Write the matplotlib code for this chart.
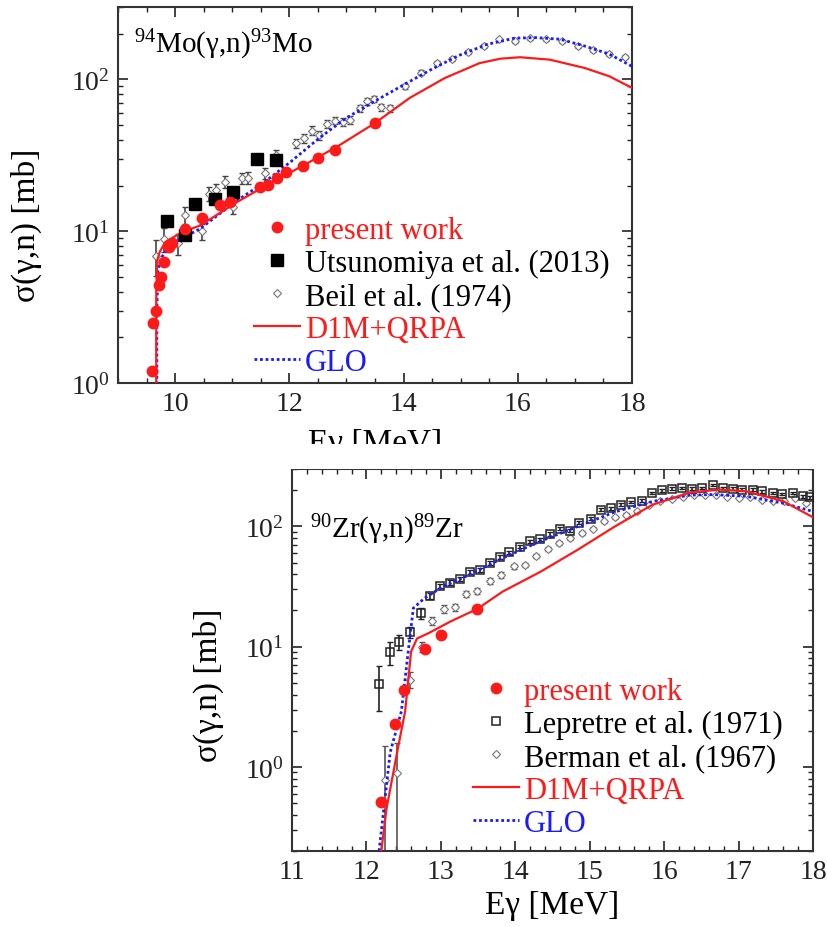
import numpy as np
import matplotlib
matplotlib.use("Agg")
import matplotlib.pyplot as plt
from matplotlib.ticker import MultipleLocator, LogLocator, NullFormatter
from matplotlib.patches import Rectangle

plt.rcParams['font.family'] = ['Liberation Serif', 'DejaVu Serif']
plt.rcParams['mathtext.fontset'] = 'custom'
plt.rcParams['mathtext.rm'] = 'Liberation Serif'
plt.rcParams['mathtext.it'] = 'Liberation Serif:italic'

# ---- 94Mo(g,n) ----
mo_pw_x = [9.59, 9.61, 9.66, 9.71, 9.75, 9.81, 9.90, 9.95, 10.17, 10.47, 10.78,
           10.96, 11.48, 11.63, 11.79, 11.95, 12.24, 12.50, 12.80, 13.50]
mo_pw_y = [1.2, 2.5, 3.0, 4.4, 5.0, 6.3, 7.9, 8.3, 10.4, 12.3, 14.9,
           15.5, 19.5, 20.2, 22.3, 24.7, 27.0, 30.2, 34.4, 51.6]

utsu_x = [9.86, 10.18, 10.35, 10.69, 11.02, 11.43, 11.76]
utsu_y = [11.6, 9.4, 15.0, 16.4, 18.0, 30.0, 29.5]

beil_x = [9.66, 9.80, 10.05, 10.18, 10.47, 10.59, 10.71, 10.87, 11.02, 11.17, 11.27,
          11.57, 11.76, 12.12, 12.26, 12.39, 12.52, 12.66, 12.80, 12.94, 13.07,
          13.24, 13.36, 13.48, 13.61, 13.76, 14.02, 14.31, 14.59, 14.85, 15.13,
          15.40, 15.67, 15.96, 16.22, 16.50, 16.77, 17.05, 17.32, 17.60, 17.87]
beil_y = [6.9, 8.9, 8.3, 12.8, 10.0, 17.7, 18.7, 21.2, 14.5, 22.3, 22.5,
          24.0, 31.9, 38, 41, 46, 43, 51, 53.5, 52.5, 54,
          64.6, 71.8, 74.8, 65.6, 64.6, 90, 111, 129, 137, 152,
          166, 184, 179, 187, 184, 179, 166, 156, 147, 141]
beil_err = [1.8, 1.6, 1.3, 1.6, 1.2, 1.8, 1.8, 2.0, 1.6, 1.9, 1.9,
            2.0, 2.5, 2.5, 2.7, 3.0, 3.0, 3.0, 3.0, 3.0, 3.0,
            3.5, 3.5, 3.5, 3.5, 3.5, 4, 4, 4, 4, 4,
            4, 4, 4, 4, 4, 4, 4, 4, 4, 4]

glo_mo_x = [9.68, 9.68, 9.70, 9.75, 9.85, 10.01, 10.44, 11.05, 11.54, 12.03, 12.52, 13.0,
            13.5, 13.99, 14.48, 14.97, 15.46, 15.94, 16.31, 16.74, 17.17, 17.6, 18.0]
glo_mo_y = [0.5, 3.0, 5.5, 6.6, 7.5, 8.5, 10.4, 15.6, 20.7, 28.8, 41, 55.8,
            72, 91.6, 116, 144, 170, 187, 188.6, 184, 166, 147, 122]

d1m_mo_x = [9.67, 9.67, 9.69, 9.73, 9.83, 10.13, 10.44, 11.05, 11.66, 12.27, 12.89,
            13.5, 14.11, 14.72, 15.33, 15.7, 16.04, 16.56, 17.17, 17.6, 18.0]
d1m_mo_y = [0.5, 4.0, 6.5, 7.3, 8.5, 9.9, 10.9, 15.3, 20.7, 27.4, 37.1,
            51.6, 75.6, 102, 128, 137, 140, 135, 119, 105, 88]

# ---- 90Zr(g,n) ----
zr_pw_x = [12.20, 12.39, 12.50, 12.79, 13.00, 13.49]
zr_pw_y = [0.51, 2.27, 4.4, 9.5, 12.5, 20.6]

lep_x = [12.17, 12.31, 12.44, 12.59, 12.73, 12.86, 12.99, 13.12, 13.26, 13.39, 13.52,
         13.66, 13.79, 13.92, 14.06, 14.20, 14.33, 14.46, 14.60, 14.73, 14.86,
         15.02, 15.15, 15.28, 15.42, 15.55, 15.70, 15.84, 15.97, 16.10, 16.24,
         16.37, 16.51, 16.65, 16.79, 16.92, 17.05, 17.19, 17.32, 17.46, 17.59,
         17.73, 17.87, 17.96]
lep_y = [4.9, 9.0, 11.0, 13.2, 19.0, 26.4, 32, 34, 36.6, 42, 43.6,
         50, 55.6, 61, 68, 75, 78, 86, 95.6, 92, 107,
         116, 138, 142, 151, 159, 164, 190, 199, 206, 209,
         206, 209, 220, 209, 206, 202, 202, 196, 190, 186,
         190, 178, 174]
lep_err = [2.0, 2.0, 1.6, 1.5, 2.0, 1.5, 1.5, 1.5, 1.5, 1.8, 1.8,
           2, 2, 2, 2.5, 2.5, 2.5, 3, 3, 3, 3,
           4, 4, 4, 4, 4, 4, 5, 5, 5, 5,
           5, 5, 5, 5, 5, 5, 5, 5, 5, 5,
           5, 5, 5]

ber_x = [12.25, 12.41, 12.59, 12.75, 12.88, 13.04, 13.19, 13.34, 13.48, 13.66, 13.81,
         13.98, 14.13, 14.28, 14.44, 14.59, 14.74, 14.89, 15.04, 15.19, 15.34,
         15.49, 15.64, 15.79, 15.95, 16.10, 16.25, 16.40, 16.55, 16.70, 16.85,
         17.00, 17.16, 17.31, 17.46, 17.61, 17.76, 17.91]
ber_y = [0.78, 0.89, 5.3, 10.0, 16.4, 20.6, 21.3, 27.3, 29.1, 35.2, 39.5,
         46.4, 47.9, 57, 64.6, 72.6, 80, 88, 95.6, 110, 119,
         125, 133, 151, 164, 170, 174, 181, 184, 181, 174,
         172, 174, 166, 164, 162, 172, 156]
ber_err_lo = [0.77, 0.88, 0.8, 1.0, 1.2, 1.4, 1.4, 1.6, 1.6, 1.8, 2,
              2, 2, 2.5, 2.5, 2.5, 3, 3, 3, 3, 3,
              3, 3, 3, 3, 3, 3, 3, 3, 3, 3,
              3, 3, 3, 3, 3, 3, 3]
ber_err_hi = [0.71, 0.70, 0.8, 1.0, 1.2, 1.4, 1.4, 1.6, 1.6, 1.8, 2,
              2, 2, 2.5, 2.5, 2.5, 3, 3, 3, 3, 3,
              3, 3, 3, 3, 3, 3, 3, 3, 3, 3,
              3, 3, 3, 3, 3, 3, 3]

glo_zr_x = [12.17, 12.32, 12.47, 12.55, 12.63, 12.78, 13.03, 13.33, 13.83, 14.33, 14.84,
            15.34, 15.84, 16.35, 16.65, 17.1, 17.6, 18.0]
glo_zr_y = [0.2, 1.33, 2.9, 7.9, 20.9, 25.3, 31.6, 38.3, 54.4, 75, 100,
            132, 161, 182, 184, 178, 156, 133]

d1m_zr_x = [12.20, 12.27, 12.42, 12.52, 12.60, 12.68, 12.83, 13.13, 13.49, 13.83, 14.34,
            14.84, 15.34, 15.84, 16.35, 16.75, 17.1, 17.6, 18.0]
d1m_zr_y = [0.2, 0.45, 1.4, 2.9, 9.1, 11.7, 12.9, 16.2, 20.6, 28.7, 42,
            64, 100, 151, 192, 202, 196, 162, 119]

W, H = 828, 928
fig = plt.figure(figsize=(W / 100, H / 100), dpi=100)
fs_tick = 20
fs_leg = 22
fs_lab = 24

def px_axes(l, t, r, b):
    return fig.add_axes([l / W, 1 - b / H, (r - l) / W, (b - t) / H])

def style(ax, xmaj, xmin):
    ax.set_yscale('log')
    ax.xaxis.set_major_locator(MultipleLocator(xmaj))
    ax.xaxis.set_minor_locator(MultipleLocator(xmin))
    ax.yaxis.set_major_locator(LogLocator(base=10))
    ax.yaxis.set_minor_locator(LogLocator(base=10, subs=np.arange(2, 10)))
    ax.yaxis.set_minor_formatter(NullFormatter())
    ax.tick_params(which='both', direction='in', top=True, right=True,
                   labelsize=fs_tick, colors='#222222', pad=6)
    ax.tick_params(which='major', length=7, width=1.2)
    ax.tick_params(which='minor', length=3.5, width=1.0)
    for s in ax.spines.values():
        s.set_linewidth(1.5)
        s.set_color('#333333')

def legend(ax, h, labels, colors, x, y):
    ax.legend(h, labels, loc='upper left', bbox_to_anchor=(x / W, 1 - y / H),
              bbox_transform=fig.transFigure, frameon=False, fontsize=fs_leg,
              labelcolor=colors, borderpad=0, borderaxespad=0,
              handlelength=1.5, handletextpad=0.16, labelspacing=0.13)

# top panel
ax1 = px_axes(118, 8, 632, 384)
ax1.errorbar(beil_x, beil_y, yerr=beil_err, fmt='none', ecolor='#444444',
             elinewidth=1.2, capsize=2.5, capthick=1.0, zorder=2)
h_beil, = ax1.plot(beil_x, beil_y, 'D', ms=4, mfc='white', mec='#777777', mew=0.8, ls='none', zorder=3)
h_glo, = ax1.plot(glo_mo_x, glo_mo_y, color='#1a1aff', lw=2, ls=(0, (1, 1)), zorder=4)
h_d1m, = ax1.plot(d1m_mo_x, d1m_mo_y, color='#ff1a1a', lw=1.6, zorder=4)
h_ut, = ax1.plot(utsu_x, utsu_y, 's', ms=8, color='black', ls='none', zorder=5)
h_pw, = ax1.plot(mo_pw_x, mo_pw_y, 'o', ms=7.5, color='#ff1a1a', ls='none', zorder=6)
ax1.set_xlim(9, 18)
ax1.set_ylim(1, 300)
style(ax1, 2, 0.5)
ax1.set_xlabel('Eγ [MeV]', fontsize=fs_lab, labelpad=8)
ax1.set_ylabel('σ(γ,n) [mb]', fontsize=fs_lab)
ax1.yaxis.set_label_coords(42 / W, 1 - 225 / H, transform=fig.transFigure)
ax1.text(134 / W, 1 - 45 / H, r'$^{94}$Mo(γ,n)$^{93}$Mo', transform=fig.transFigure,
         fontsize=21, va='center', ha='left')
legend(ax1, [h_pw, h_ut, h_beil, h_d1m, h_glo],
       ['present work', 'Utsunomiya et al. (2013)', 'Beil et al. (1974)', 'D1M+QRPA', 'GLO'],
       ['#ff1a1a', 'black', 'black', '#ff1a1a', '#1a1aff'], 254, 217)

# bottom panel
ax2 = px_axes(292, 470, 813, 852)
ax2.errorbar(ber_x, ber_y, yerr=[ber_err_lo, ber_err_hi], fmt='none', ecolor='#555555',
             elinewidth=1.2, capsize=2.5, capthick=1.0, zorder=2)
h_ber, = ax2.plot(ber_x, ber_y, 'D', ms=4, mfc='white', mec='#777777', mew=0.8, ls='none', zorder=3)
ax2.errorbar(lep_x, lep_y, yerr=lep_err, fmt='none', ecolor='#222222',
             elinewidth=1.2, capsize=2.5, capthick=1.0, zorder=3)
h_lep, = ax2.plot(lep_x, lep_y, 's', ms=6, mfc='none', mec='#222222', mew=1.1, ls='none', zorder=4)
h_glo2, = ax2.plot(glo_zr_x, glo_zr_y, color='#1a1aff', lw=2, ls=(0, (1, 1)), zorder=5)
h_d1m2, = ax2.plot(d1m_zr_x, d1m_zr_y, color='#ff1a1a', lw=1.6, zorder=5)
h_pw2, = ax2.plot(zr_pw_x, zr_pw_y, 'o', ms=7.5, color='#ff1a1a', ls='none', zorder=6)
ax2.set_xlim(11, 18)
ax2.set_ylim(0.2, 300)
style(ax2, 1, 0.2)
ax2.set_xlabel('Eγ [MeV]', fontsize=fs_lab, labelpad=4)
ax2.set_ylabel('σ(γ,n) [mb]', fontsize=fs_lab)
ax2.yaxis.set_label_coords(224 / W, 1 - 685 / H, transform=fig.transFigure)
ax2.text(310 / W, 1 - 530 / H, r'$^{90}$Zr(γ,n)$^{89}$Zr', transform=fig.transFigure,
         fontsize=21, va='center', ha='left')
legend(ax2, [h_pw2, h_lep, h_ber, h_d1m2, h_glo2],
       ['present work', 'Lepretre et al. (1971)', 'Berman et al. (1967)', 'D1M+QRPA', 'GLO'],
       ['#ff1a1a', 'black', 'black', '#ff1a1a', '#1a1aff'], 473, 678)

# the top panel was cropped just below its axis label
fig.patches.append(Rectangle((0, 1 - 470 / H), 1, 25 / H, transform=fig.transFigure,
                             facecolor='white', edgecolor='none', zorder=10))

fig.savefig('out.png', dpi=100)
